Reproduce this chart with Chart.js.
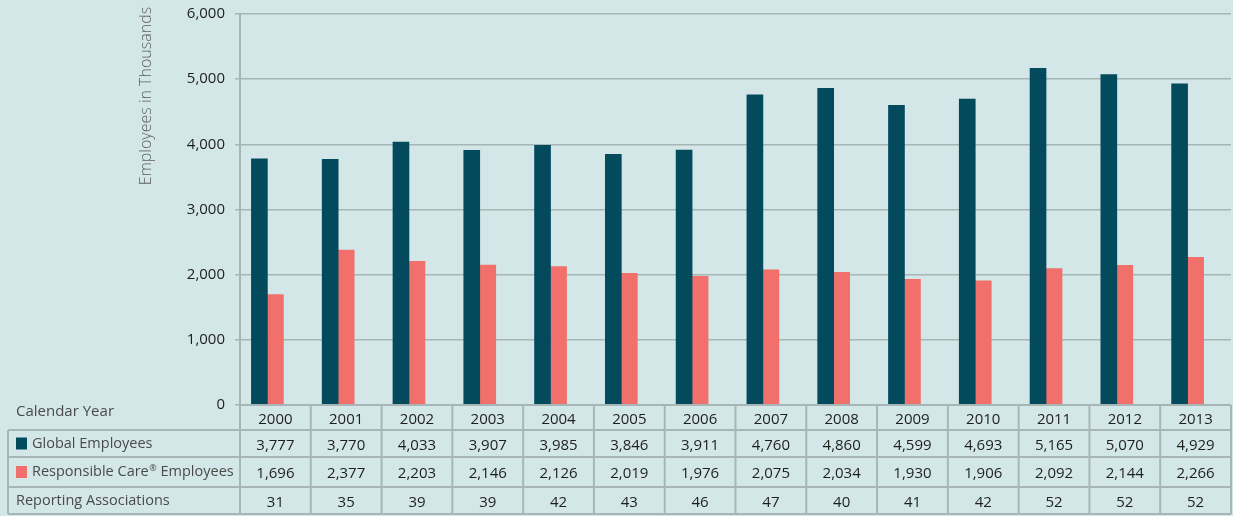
<!DOCTYPE html>
<html>
<head>
<meta charset="utf-8">
<script src="https://cdn.jsdelivr.net/npm/chart.js@4/dist/chart.umd.min.js"></script>
<style>
  html, body { margin: 0; padding: 0; background: #d3e7e8; }
  #wrap { width: 1233px; height: 516px; position: relative; }
</style>
</head>
<body>
<div id="wrap"><canvas id="chart"></canvas></div>
<script>
const years = ['2000', '2001', '2002', '2003', '2004', '2005', '2006', '2007', '2008', '2009', '2010', '2011', '2012', '2013'];
const globalEmployees = [3777, 3770, 4033, 3907, 3985, 3846, 3911, 4760, 4860, 4599, 4693, 5165, 5070, 4929];
const rcEmployees = [1696, 2377, 2203, 2146, 2126, 2019, 1976, 2075, 2034, 1930, 1906, 2092, 2144, 2266];
const reportingAssociations = [31, 35, 39, 39, 42, 43, 46, 47, 40, 41, 42, 52, 52, 52];

const DARK = '#044a5d';
const PINK = '#f1706b';
const LINE = '#a8b5b5';
const FONT = '"Open Sans", sans-serif';

const fmt = v => v.toLocaleString('en-US');

// draws the data table under the plot and the rotated axis title
const tablePlugin = {
    id: 'dataTable',
    afterDraw(chart) {
        const ctx = chart.ctx;
        const x = chart.scales.x;
        const area = chart.chartArea;
        const half = area.width / years.length / 2;
        const rows = [405, 430, 457, 487, 514];
        const labelLeft = 8;

        ctx.save();
        ctx.strokeStyle = LINE;
        ctx.lineWidth = 2;

        // horizontal lines
        ctx.beginPath();
        ctx.moveTo(area.left, rows[0]);
        ctx.lineTo(area.right, rows[0]);
        for (let r = 1; r < rows.length; r++) {
            ctx.moveTo(labelLeft, rows[r]);
            ctx.lineTo(area.right, rows[r]);
        }
        // vertical lines
        ctx.moveTo(labelLeft, rows[1]);
        ctx.lineTo(labelLeft, rows[4]);
        for (let i = 0; i <= years.length; i++) {
            const px = area.left + i * half * 2;
            ctx.moveTo(px, rows[0]);
            ctx.lineTo(px, rows[4]);
        }
        ctx.stroke();

        // cell values
        const tableRows = [years, globalEmployees.map(fmt), rcEmployees.map(fmt), reportingAssociations.map(String)];
        ctx.fillStyle = '#1e1e1e';
        ctx.font = '15px ' + FONT;
        ctx.textAlign = 'center';
        ctx.textBaseline = 'middle';
        tableRows.forEach((vals, r) => {
            const cy = (rows[r] + rows[r + 1]) / 2 + 2;
            vals.forEach((v, i) => {
                ctx.fillText(v, x.getPixelForValue(i), cy);
            });
        });

        // row labels
        const labelFont = '14.5px ' + FONT;
        ctx.fillStyle = '#4a4a4a';
        ctx.font = '15px ' + FONT;
        ctx.textAlign = 'left';
        ctx.fillText('Calendar Year', 16, 412);
        ctx.font = labelFont;

        let cy = (rows[1] + rows[2]) / 2;
        ctx.fillStyle = DARK;
        ctx.fillRect(16, cy - 6, 11, 12);
        ctx.fillStyle = '#4a4a4a';
        ctx.fillText('Global Employees', 32, cy);

        cy = (rows[2] + rows[3]) / 2;
        ctx.fillStyle = PINK;
        ctx.fillRect(16, cy - 6, 11, 12);
        ctx.fillStyle = '#4a4a4a';
        let tx = 32;
        ctx.fillText('Responsible Care', tx, cy);
        tx += ctx.measureText('Responsible Care').width + 0.5;
        ctx.font = '9px ' + FONT;
        ctx.fillText('\u00ae', tx, cy - 4);
        tx += ctx.measureText('\u00ae').width;
        ctx.font = labelFont;
        ctx.fillText(' Employees', tx, cy);

        cy = (rows[3] + rows[4]) / 2;
        ctx.fillText('Reporting Associations', 16, cy);

        // y axis title
        ctx.translate(146, 96);
        ctx.rotate(-Math.PI / 2);
        ctx.textAlign = 'center';
        ctx.fillStyle = '#5e5e5e';
        ctx.font = '300 16px ' + FONT;
        ctx.fillText('Employees in Thousands', 0, 0);
        ctx.restore();
    }
};

new Chart(document.getElementById('chart'), {
    type: 'bar',
    data: {
        labels: years,
        datasets: [
            {
                label: 'Global Employees',
                data: globalEmployees,
                backgroundColor: DARK,
                barThickness: 16
            },
            {
                label: 'Responsible Care\u00ae Employees',
                data: rcEmployees,
                backgroundColor: PINK,
                barThickness: 16
            },
            {
                // empty slot: the bar pair sits left of the cell centre
                label: '',
                data: [],
                barThickness: 16
            }
        ]
    },
    options: {
        responsive: true,
        maintainAspectRatio: false,
        animation: false,
        layout: {
            padding: { left: 0, top: 0, right: 2, bottom: 111 }
        },
        plugins: {
            legend: { display: false },
            tooltip: { enabled: false }
        },
        scales: {
            x: {
                display: false
            },
            y: {
                min: 0,
                max: 6000,
                afterFit(scale) {
                    scale.width = 240;
                    scale.paddingTop = 14;
                    scale.paddingBottom = 0;
                },
                ticks: {
                    stepSize: 1000,
                    padding: 10,
                    color: '#1e1e1e',
                    font: { family: FONT, size: 15 },
                    callback: v => fmt(v)
                },
                grid: {
                    color: LINE,
                    lineWidth: 1.5,
                    tickLength: 5
                },
                border: {
                    color: LINE,
                    width: 2
                }
            }
        }
    },
    plugins: [tablePlugin]
});
</script>
</body>
</html>
